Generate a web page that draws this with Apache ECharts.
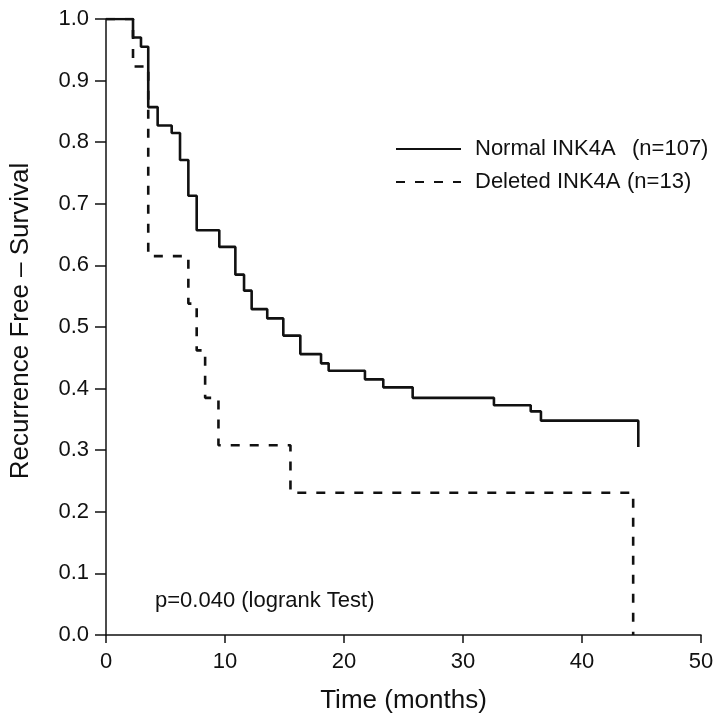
<!DOCTYPE html>
<html>
<head>
<meta charset="utf-8">
<script src="https://cdn.jsdelivr.net/npm/echarts@6/dist/echarts.min.js"></script>
<style>
html,body{margin:0;padding:0;background:#fff;}
#c{width:720px;height:719px;}
</style>
</head>
<body>
<div id="c"></div>
<script>
// Kaplan-Meier step data (time in months, survival fraction after the step)
var normalTimes = [0, 2.27, 2.94, 3.55, 4.34, 5.52, 6.22, 6.92, 7.62, 9.52, 10.87, 11.6, 12.24, 13.55, 14.9, 16.33, 18.07, 18.71, 21.76, 23.3, 25.77, 32.6, 35.69, 36.55, 44.73];
var normalSurv  = [1.0, 0.970, 0.955, 0.857, 0.827, 0.815, 0.771, 0.713, 0.657, 0.630, 0.585, 0.559, 0.529, 0.514, 0.486, 0.456, 0.441, 0.429, 0.415, 0.402, 0.385, 0.373, 0.363, 0.348, 0.305];
var deletedTimes = [0, 2.27, 3.55, 6.92, 7.62, 8.33, 9.45, 15.5, 44.3];
var deletedSurv  = [1.0, 0.923, 0.615, 0.538, 0.462, 0.385, 0.308, 0.231, 0.0];
var seriesNames = ['Normal INK4A', 'Deleted INK4A'];
var seriesN = ['(n=107)', '(n=13)'];
var xTicks = [0, 10, 20, 30, 40, 50];
var yTicks = [0.0, 0.1, 0.2, 0.3, 0.4, 0.5, 0.6, 0.7, 0.8, 0.9, 1.0];
var pText = 'p=0.040 (logrank Test)';

function pairs(xs, ys){ return xs.map(function(x,i){ return [x, ys[i]]; }); }

var FONT = '"Liberation Sans", Arial, Helvetica, sans-serif';
var INK = '#111';
var chart = echarts.init(document.getElementById('c'), null, {renderer:'canvas'});
chart.setOption({
  backgroundColor: '#fff',
  animation: false,
  textStyle: {fontFamily: FONT, color: INK},
  grid: {left: 106, right: 19, top: 19, bottom: 77, containLabel: false},
  title: {
    text: pText, left: 155, top: 590, padding: 0,
    textStyle: {fontSize: 22, fontWeight: 'normal', color: INK, fontFamily: FONT}
  },
  legend: {
    orient: 'vertical', left: 395, top: 138, padding: 0,
    itemWidth: 65, itemHeight: 14, itemGap: 11,
    data: seriesNames,
    itemStyle: {color: 'rgba(0,0,0,0)', borderColor: 'rgba(0,0,0,0)', borderWidth: 0, opacity: 0},
    formatter: function(name){
      var i = seriesNames.indexOf(name);
      return '{n' + i + '|' + name + '}{c|' + seriesN[i] + '}';
    },
    textStyle: {
      fontSize: 22, color: INK, fontFamily: FONT, lineHeight: 22,
      rich: {
        n0: {width: 157, fontSize: 22, padding: [0,0,0,9], fontFamily: FONT, color: INK},
        n1: {width: 152, fontSize: 22, padding: [0,0,0,9], fontFamily: FONT, color: INK},
        c: {fontSize: 22, fontFamily: FONT, color: INK}
      }
    }
  },
  xAxis: {
    type: 'value', min: xTicks[0], max: xTicks[xTicks.length-1], interval: 10,
    name: 'Time (months)', nameLocation: 'middle', nameGap: 53,
    nameTextStyle: {fontSize: 26, color: INK, fontFamily: FONT},
    axisLine: {lineStyle: {color: INK, width: 1.5}},
    axisTick: {length: 8, lineStyle: {color: INK, width: 1.5}},
    axisLabel: {fontSize: 22, color: INK, margin: 16, fontFamily: FONT},
    splitLine: {show: false}
  },
  yAxis: {
    type: 'value', min: yTicks[0], max: yTicks[yTicks.length-1], interval: 0.1,
    name: 'Recurrence Free \u2013 Survival', nameLocation: 'middle', nameGap: 72,
    nameTextStyle: {fontSize: 26, color: INK, fontFamily: FONT, padding: [0, 0, 0, 12]},
    axisLine: {show: true, lineStyle: {color: INK, width: 1.5}},
    axisTick: {show: true, length: 11, lineStyle: {color: INK, width: 1.5}},
    axisLabel: {fontSize: 22, color: INK, margin: 17, fontFamily: FONT,
      formatter: function(v){ return v.toFixed(1); }},
    splitLine: {show: false}
  },
  series: [
    {
      name: seriesNames[0], type: 'line', step: 'end', symbol: 'none',
      data: pairs(normalTimes, normalSurv),
      lineStyle: {color: INK, width: 2.6, type: 'solid'},
      itemStyle: {color: INK}
    },
    {
      name: seriesNames[1], type: 'line', step: 'end', symbol: 'none',
      data: pairs(deletedTimes, deletedSurv),
      lineStyle: {color: INK, width: 2.6, type: [9, 10]},
      itemStyle: {color: INK}
    }
  ]
});
</script>
</body>
</html>
